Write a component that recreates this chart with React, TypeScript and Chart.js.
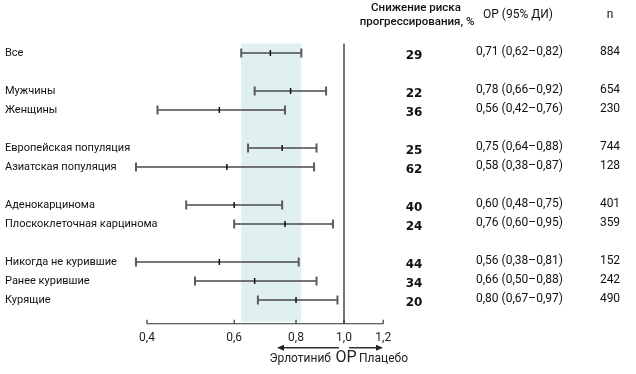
import React, { useEffect, useRef } from "react";
import { Chart, registerables } from "chart.js";

Chart.register(...registerables);

// Row slots (index in the plot, blank slots are spacers)
const rowLabels = [
  "Все",
  "",
  "Мужчины",
  "Женщины",
  "",
  "Европейская популяция",
  "Азиатская популяция",
  "",
  "Аденокарцинома",
  "Плоскоклеточная карцинома",
  "",
  "Никогда не курившие",
  "Ранее курившие",
  "Курящие",
];
const rowIndex = [0, 2, 3, 5, 6, 8, 9, 11, 12, 13];
const hr = [0.71, 0.78, 0.56, 0.75, 0.58, 0.6, 0.76, 0.56, 0.66, 0.8];
const ciLow = [0.62, 0.66, 0.42, 0.64, 0.38, 0.48, 0.6, 0.38, 0.5, 0.67];
const ciHigh = [0.82, 0.92, 0.76, 0.88, 0.87, 0.75, 0.95, 0.81, 0.88, 0.97];
const riskReduction = ["29", "22", "36", "25", "62", "40", "24", "44", "34", "20"];
const hrText = [
  "0,71 (0,62–0,82)",
  "0,78 (0,66–0,92)",
  "0,56 (0,42–0,76)",
  "0,75 (0,64–0,88)",
  "0,58 (0,38–0,87)",
  "0,60 (0,48–0,75)",
  "0,76 (0,60–0,95)",
  "0,56 (0,38–0,81)",
  "0,66 (0,50–0,88)",
  "0,80 (0,67–0,97)",
];
const nValues = ["884", "654", "230", "744", "128", "401", "359", "152", "242", "490"];
const tickValues = [0.4, 0.6, 0.8, 1.0, 1.2];
const tickLabels = ["0,4", "0,6", "0,8", "1,0", "1,2"];
const bandRange = [0.62, 0.82];
const refValue = 1.0;

const FONT = "Roboto, 'Open Sans', sans-serif";

const forestPlugin = {
  id: "forest",
  beforeDatasetsDraw(chart: any) {
    const { ctx, chartArea } = chart;
    const x = chart.scales.x;
    const y = chart.scales.y;
    ctx.save();
    // band
    const bx0 = x.getPixelForValue(bandRange[0]);
    const bx1 = x.getPixelForValue(bandRange[1]);
    ctx.fillStyle = "#e0f0f1";
    ctx.fillRect(bx0, chartArea.top, bx1 - bx0, chartArea.bottom - 2 - chartArea.top);
    // reference line
    const rx = x.getPixelForValue(refValue);
    ctx.strokeStyle = "#777";
    ctx.lineWidth = 2;
    ctx.beginPath();
    ctx.moveTo(rx, chartArea.top);
    ctx.lineTo(rx, chartArea.bottom);
    ctx.stroke();
    // axis line
    const ax0 = x.getPixelForValue(tickValues[0]);
    const ax1 = x.getPixelForValue(tickValues[tickValues.length - 1]);
    const ay = chartArea.bottom;
    ctx.strokeStyle = "#333";
    ctx.lineWidth = 1.2;
    ctx.beginPath();
    ctx.moveTo(ax0, ay);
    ctx.lineTo(ax1, ay);
    ctx.stroke();
    ctx.fillStyle = "#222";
    ctx.font = `12px ${FONT}`;
    ctx.textAlign = "center";
    ctx.textBaseline = "middle";
    tickValues.forEach((v, i) => {
      const tx = x.getPixelForValue(v);
      ctx.beginPath();
      ctx.moveTo(tx, ay);
      ctx.lineTo(tx, ay - 4);
      ctx.stroke();
      ctx.fillText(tickLabels[i], tx, ay + 14);
    });
    // whiskers
    rowIndex.forEach((r, i) => {
      const py = y.getPixelForValue(r);
      const x0 = x.getPixelForValue(ciLow[i]);
      const x1 = x.getPixelForValue(ciHigh[i]);
      ctx.strokeStyle = "#4a4a4a";
      ctx.lineWidth = 1.5;
      ctx.beginPath();
      ctx.moveTo(x0, py);
      ctx.lineTo(x1, py);
      ctx.stroke();
      ctx.strokeStyle = "#5a5a5a";
      ctx.lineWidth = 2;
      ctx.beginPath();
      ctx.moveTo(x0, py - 4.5);
      ctx.lineTo(x0, py + 4.5);
      ctx.moveTo(x1, py - 4.5);
      ctx.lineTo(x1, py + 4.5);
      ctx.stroke();
    });
    // arrows below
    const arY = ay + 24;
    ctx.strokeStyle = "#333";
    ctx.fillStyle = "#222";
    ctx.lineWidth = 1.5;
    const lStart = rx - 5;
    const lEnd = lStart - 62;
    ctx.beginPath();
    ctx.moveTo(lStart, arY);
    ctx.lineTo(lEnd + 5, arY);
    ctx.stroke();
    ctx.beginPath();
    ctx.moveTo(lEnd, arY);
    ctx.lineTo(lEnd + 7, arY - 3);
    ctx.lineTo(lEnd + 7, arY + 3);
    ctx.closePath();
    ctx.fill();
    const rStart = rx + 5;
    const rEnd = rStart + 34;
    ctx.beginPath();
    ctx.moveTo(rStart, arY);
    ctx.lineTo(rEnd - 5, arY);
    ctx.stroke();
    ctx.beginPath();
    ctx.moveTo(rEnd, arY);
    ctx.lineTo(rEnd - 7, arY - 3);
    ctx.lineTo(rEnd - 7, arY + 3);
    ctx.closePath();
    ctx.fill();
    ctx.textBaseline = "middle";
    ctx.font = `12px ${FONT}`;
    ctx.textAlign = "right";
    ctx.fillText("Эрлотиниб", rx - 13, arY + 11);
    ctx.font = `16px ${FONT}`;
    ctx.textAlign = "center";
    ctx.fillText("ОР", rx + 2, arY + 10);
    ctx.font = `12px ${FONT}`;
    ctx.textAlign = "left";
    ctx.fillText("Плацебо", rx + 15, arY + 11);

    // row labels
    ctx.fillStyle = "#111";
    ctx.font = `11px ${FONT}`;
    ctx.textAlign = "left";
    rowLabels.forEach((lab, r) => {
      if (!lab) return;
      ctx.fillText(lab, 5, y.getPixelForValue(r));
    });
    // columns
    rowIndex.forEach((r, i) => {
      const py = y.getPixelForValue(r);
      ctx.font = `bold 12px 'DejaVu Sans', sans-serif`;
      ctx.textAlign = "center";
      ctx.fillText(riskReduction[i], 414, py + 3);
      ctx.font = `12px ${FONT}`;
      ctx.textAlign = "left";
      ctx.fillText(hrText[i], 476, py - 1);
      ctx.textAlign = "center";
      ctx.fillText(nValues[i], 610, py - 1);
    });
    // header
    ctx.font = `500 11.5px ${FONT}`;
    ctx.textAlign = "center";
    ctx.fillText("Снижение риска", 416, 8);
    ctx.fillText("прогрессирования, %", 417, 22);
    ctx.font = `12px ${FONT}`;
    ctx.fillText("ОР (95% ДИ)", 518, 15);
    ctx.fillText("n", 610, 15);
    ctx.restore();
  },
};

export default function App() {
  const ref = useRef<HTMLCanvasElement | null>(null);
  useEffect(() => {
    document.body.style.margin = "0";
    const canvas = ref.current;
    if (!canvas) return;
    const points = rowIndex.map((r, i) => ({ x: hr[i], y: r }));
    const chart = new Chart(canvas, {
      type: "scatter",
      data: {
        datasets: [
          {
            data: points,
            pointStyle: "line",
            rotation: 90,
            radius: 3,
            borderColor: "#111",
            borderWidth: 1.5,
            backgroundColor: "#111",
          },
        ],
      },
      plugins: [forestPlugin],
      options: {
        responsive: false,
        animation: false,
        events: [],
        layout: {
          padding: { left: 124.35, right: 235.59, top: 43.5, bottom: 50.25 },
        },
        plugins: {
          legend: { display: false },
          tooltip: { enabled: false },
        },
        scales: {
          x: { type: "logarithmic", min: 0.36, max: 1.3, display: false },
          y: { type: "linear", min: -0.5, max: 14.25, reverse: true, display: false },
        },
      },
    });
    return () => chart.destroy();
  }, []);
  return (
    <div style={{ width: 636, height: 374 }}>
      <canvas ref={ref} width={636} height={374} />
    </div>
  );
}
